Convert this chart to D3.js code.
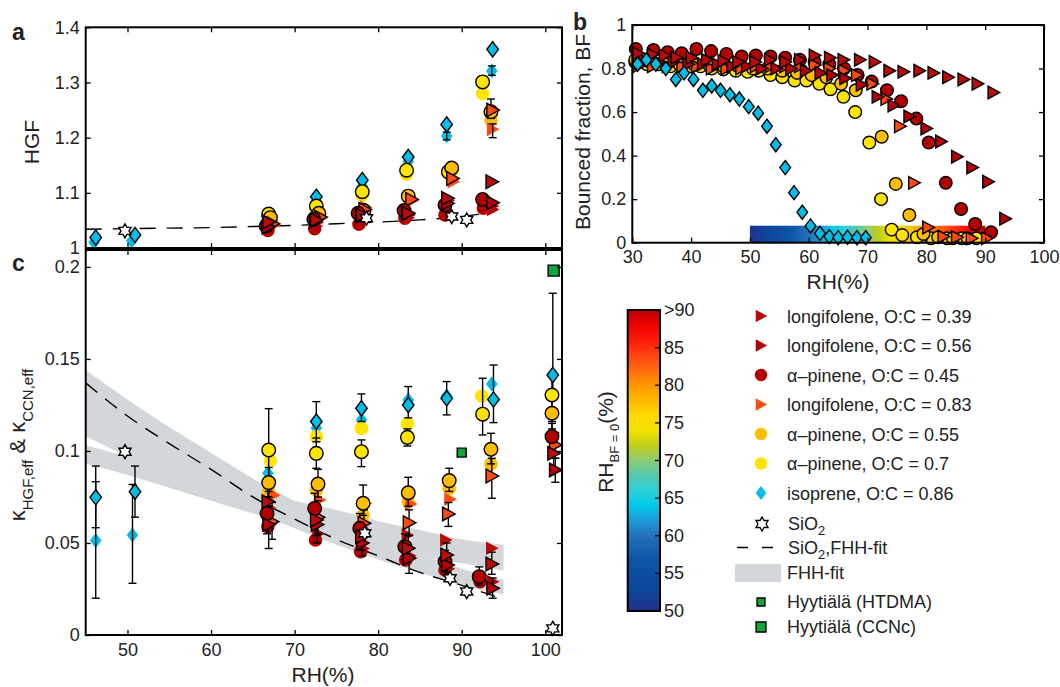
<!DOCTYPE html>
<html>
<head>
<meta charset="utf-8">
<script src="https://cdn.jsdelivr.net/npm/d3@7/dist/d3.min.js"></script>
<style>
  body { margin: 0; background: #fff; }
  text { font-family: "Liberation Sans", Arial, Helvetica, sans-serif; fill: #222; }
</style>
</head>
<body>
<svg id="fig" width="1060" height="687"></svg>
<script>
// ---- panel b: bounced fraction vs RH, [RH, BF]
const bfIso = [[30.9,0.82],[32.4,0.84],[34,0.82],[35.7,0.80],[37.4,0.75],[38.8,0.78],[40.4,0.75],[42,0.70],[43.5,0.72],[45,0.70],[46.6,0.68],[48.2,0.66],[49.8,0.625],[51.4,0.595],[52.9,0.535],[54.4,0.45],[56,0.345],[57.5,0.23],[58.9,0.14],[60.3,0.077],[61.9,0.043],[63.5,0.028],[65,0.023],[66.6,0.025],[68.2,0.023],[69.7,0.023]];
const bfApin07 = [[30.5,0.83],[32.5,0.82],[34.5,0.82],[36.5,0.81],[38.5,0.81],[40,0.81],[41.6,0.81],[43.5,0.80],[45.5,0.796],[47.6,0.79],[49.6,0.785],[51.5,0.79],[53.5,0.77],[55.5,0.76],[57.6,0.745],[59.6,0.745],[61.8,0.73],[63.7,0.705],[65.9,0.67],[67.9,0.60],[70.3,0.46],[72.3,0.20],[74.1,0.06],[75.9,0.035],[78.4,0.025],[80.8,0.02],[83.5,0.02],[86,0.02],[88.5,0.02]];
const bfApin055 = [[30.5,0.84],[33,0.83],[35.5,0.83],[38,0.82],[40.5,0.82],[43,0.82],[45.5,0.81],[48,0.81],[50.5,0.80],[53,0.80],[55.5,0.79],[58,0.78],[60.5,0.77],[63,0.76],[65.5,0.73],[68,0.70],[72.4,0.487],[74.8,0.27],[77.1,0.127],[79.5,0.04],[82,0.025],[84.5,0.02],[87,0.02]];
const bfApin045 = [[30.6,0.89],[33.6,0.885],[36,0.875],[38.4,0.87],[40.9,0.89],[43.4,0.88],[46,0.867],[48.6,0.855],[51,0.86],[53.5,0.855],[56,0.85],[58.5,0.84],[61,0.83],[63.5,0.82],[66,0.80],[68.3,0.77],[70.7,0.74],[73.3,0.70],[75.7,0.65],[78.3,0.57],[80.4,0.46],[83.3,0.275],[85.9,0.155],[88.3,0.086],[91,0.048]];
const bfLon083 = [[31,0.81],[33.5,0.81],[36,0.81],[38.5,0.81],[41,0.81],[43.5,0.80],[46,0.80],[48.5,0.80],[51,0.81],[53.5,0.81],[56,0.81],[58.5,0.81],[61,0.816],[63.5,0.80],[66,0.79],[68.2,0.77],[70.8,0.73],[73.2,0.66],[75.5,0.535],[77.9,0.275],[80.3,0.07],[82.9,0.028],[85.2,0.025],[87.7,0.02],[90.3,0.02]];
const bfLon056 = [[32,0.84],[34.5,0.83],[37,0.83],[39.5,0.82],[42,0.82],[44.5,0.82],[47,0.81],[49.5,0.81],[52,0.80],[54.5,0.80],[57,0.80],[59.5,0.79],[62,0.78],[64,0.77],[66.2,0.755],[69,0.725],[71.7,0.67],[74.4,0.63],[77.1,0.58],[80,0.525],[82.5,0.465],[85.2,0.395],[87.8,0.345],[90.5,0.28],[93.4,0.11]];
const bfLon039 = [[31,0.87],[33.5,0.865],[35.5,0.86],[37.5,0.85],[40.1,0.85],[42.7,0.84],[45.5,0.835],[48,0.83],[50.9,0.83],[53.4,0.84],[56,0.83],[58.5,0.84],[61,0.86],[63.6,0.85],[65.9,0.84],[68.7,0.84],[71.2,0.83],[73.7,0.79],[76.1,0.785],[78.8,0.79],[81.2,0.78],[83.7,0.76],[86.3,0.75],[88.7,0.73],[91.4,0.69]];

// ---- panel a: HGF, outlined markers / plain markers  [RH, HGF, (low, high)]
const hgfIso = [[46.2,1.019],[50.9,1.0235],[72.6,1.093],[78.1,1.123],[83.6,1.165],[88.2,1.224],[93.7,1.360]];
const hgfIsoP = [[46.0,1.010],[50.5,1.013],[66.6,1.057],[72.6,1.085],[78.1,1.112],[83.6,1.157],[88.2,1.203,1.196,1.210],[93.6,1.321,1.313,1.330]];
const hgfApin07 = [[66.9,1.0615],[72.6,1.076],[78.1,1.102],[83.4,1.141],[88.4,1.138],[92.5,1.301]];
const hgfApin07P = [[67.0,1.057],[72.6,1.070],[78.1,1.096],[83.4,1.134],[92.5,1.280]];
const hgfApin055 = [[67.1,1.055],[72.9,1.063],[78.3,1.068],[83.6,1.094],[88.8,1.145],[93.5,1.247,1.235,1.270]];
const hgfApin055P = [[67.2,1.050],[72.9,1.058],[78.3,1.065],[83.7,1.090],[88.8,1.140],[93.5,1.232]];
const hgfLon083 = [[67.4,1.044],[73.1,1.056],[78.4,1.070],[84.0,1.088],[88.9,1.126],[93.7,1.250]];
const hgfLon083P = [[67.6,1.042],[73.1,1.054],[78.5,1.074],[84.1,1.086],[89.0,1.120],[93.7,1.215,1.200,1.225]];
const hgfApin045 = [[66.6,1.040],[72.3,1.052],[77.6,1.063],[83.1,1.068],[88.0,1.078],[92.5,1.088]];
const hgfApin045P = [[66.8,1.032],[72.4,1.035],[77.7,1.043],[83.2,1.054],[88.0,1.060],[92.6,1.072]];
const hgfLon056 = [[66.8,1.038],[72.5,1.049],[78.0,1.057],[83.5,1.062],[88.3,1.081],[93.7,1.082]];
const hgfLon056P = [[66.9,1.035],[72.6,1.040],[78.1,1.050],[83.6,1.055],[88.3,1.065],[93.7,1.070]];
const hgfLon039 = [[66.9,1.047],[72.6,1.051],[78.1,1.060],[83.6,1.063],[88.3,1.090],[93.6,1.120]];
const hgfLon039P = [[67.0,1.044],[72.7,1.046],[78.2,1.056],[83.7,1.060],[88.4,1.086],[93.7,1.076]];
const hgfSiO2 = [[49.7,1.031],[78.6,1.054],[88.8,1.057],[90.6,1.051]];
const fitRH = [45,50,55,60,65,70,75,80,85,90,94];
const fitHGF = [1.034,1.035,1.036,1.037,1.039,1.041,1.044,1.047,1.051,1.057,1.066];

// ---- panel c: kappa, outlined markers with error bars / plain markers  [RH, kappa, (low, high)]
const kapIso = [[46.2,0.0748,0.0583,0.0918],[50.9,0.0779,0.064,0.0918],[72.6,0.116,0.105,0.1268],[78.0,0.1232,0.116,0.131],[83.6,0.125,0.118,0.135],[88.2,0.1286,0.1196,0.1377],[93.8,0.128,0.1154,0.1467],[100.9,0.1413,0.128,0.1857]];
const kapIsoP = [[46.2,0.0513,0.020,0.0833],[50.6,0.0543,0.0281,0.0818],[66.8,0.0879],[72.6,0.1125],[78.0,0.117],[83.6,0.1277],[88.2,0.130],[93.6,0.1364]];
const kapApin07 = [[66.9,0.1005,0.078,0.123],[72.6,0.0987,0.0906,0.107],[78.0,0.0996,0.0915,0.106],[83.5,0.1074,0.1027,0.112],[92.5,0.120,0.1087,0.1395],[100.8,0.1304,0.116,0.141]];
const kapApin07P = [[67.1,0.0947],[72.6,0.1078],[78.0,0.1123],[83.5,0.1147],[92.4,0.1299]];
const kapApin055 = [[66.9,0.0828,0.075,0.091],[72.8,0.082,0.075,0.090],[78.2,0.0716,0.065,0.0815],[83.6,0.0773,0.070,0.0857],[88.5,0.0839,0.078,0.0906],[93.5,0.1009,0.093,0.1096],[100.8,0.1205,0.112,0.128]];
const kapApin055P = [[66.9,0.078],[72.6,0.0788],[78.2,0.0652],[83.6,0.0725],[88.5,0.0797],[93.5,0.0929]];
const kapLon083 = [[67.3,0.0616,0.052,0.072],[72.8,0.064,0.055,0.073],[78.3,0.0607,0.053,0.068],[83.7,0.061,0.054,0.068],[88.4,0.0658,0.059,0.072],[93.6,0.0864,0.0743,0.096],[101.2,0.1033,0.096,0.110]];
const kapLon083P = [[67.5,0.076],[73.0,0.0734],[78.5,0.0716],[83.9,0.0712],[88.6,0.0737]];
const kapApin045 = [[66.7,0.066,0.055,0.075],[72.4,0.0688,0.060,0.077],[77.8,0.058,0.050,0.066],[83.2,0.048,0.041,0.055],[88.0,0.0399,0.034,0.046],[92.1,0.0317,0.027,0.037],[100.8,0.1078,0.100,0.115]];
const kapApin045P = [[66.8,0.0589],[72.5,0.0516],[77.9,0.0453],[83.3,0.0408],[88.0,0.0353],[92.2,0.029]];
const kapLon056 = [[66.9,0.060,0.047,0.070],[72.7,0.060,0.050,0.068],[78.1,0.050,0.043,0.057],[83.7,0.0417,0.0335,0.048],[88.3,0.038,0.032,0.044],[93.7,0.0254,0.020,0.031],[101.2,0.0897,0.083,0.096]];
const kapLon056P = [[67.2,0.061],[72.8,0.055],[78.2,0.047],[83.8,0.043],[88.4,0.036],[93.7,0.029]];
const kapLon039 = [[66.8,0.0725,0.062,0.082],[72.6,0.0625,0.054,0.071],[78.0,0.0534,0.046,0.061],[83.6,0.0471,0.040,0.054],[88.2,0.0435,0.037,0.050],[93.6,0.0386,0.033,0.045],[101.0,0.0987,0.090,0.108]];
const kapLon039P = [[67.0,0.069],[72.7,0.063],[78.1,0.058],[83.5,0.0543],[88.1,0.0516],[93.6,0.0471]];
const kapSiO2 = [[49.7,0.0996],[78.4,0.0553],[88.6,0.0308],[90.6,0.0236],[100.9,0.0036]];
const kapHTDMA = [[90.0,0.0991]];
const kapCCNc = [[101.0,0.198]];
const fitKappa = [0.137,0.119,0.104,0.090,0.075,0.063,0.052,0.043,0.034,0.027,0.021];
// FHH-fit bands (two), read at these RH
const bandRH = [45,50,55,60,65,70,75,80,85,90,95];
const band1Hi = [0.144,0.128,0.113,0.099,0.085,0.073,0.062,0.052,0.044,0.036,0.030];
const band1Lo = [0.108,0.097,0.087,0.077,0.067,0.058,0.049,0.041,0.034,0.027,0.022];
const band2Hi = [0.103,0.097,0.091,0.085,0.079,0.073,0.068,0.062,0.057,0.052,0.049];
const band2Lo = [0.093,0.087,0.080,0.073,0.066,0.060,0.054,0.048,0.043,0.039,0.035];

// ---- colour bar RH_BF=0
const cbarRH = [50,53,57,60,62,64,66,68,70,72,74,76,78,80,82,84,86,88,90];
const cbarCol = ["#22318a","#0b479b","#0d55a6","#2570b9","#1c9ad8","#03c9ea","#2bd0d8","#55c8ad","#8ccb75","#c3cf18","#f2e200","#ffd800","#ffb800","#ff9800","#ff6c10","#ff4210","#ff1a0a","#f00000","#bb0000"];
const cbarTicks = [50,55,60,65,70,75,80,85,90];

const legendLabels = ["longifolene, O:C = 0.39","longifolene, O:C = 0.56","\u03b1\u2013pinene, O:C = 0.45","longifolene, O:C = 0.83","\u03b1\u2013pinene, O:C = 0.55","\u03b1\u2013pinene, O:C = 0.7","isoprene, O:C = 0.86"];

// series styles (shape + colour), drawing order back to front
const series = [
  {key:"iso", shape:"dia", color:"#00bde8", b:bfIso, a:hgfIso, aP:hgfIsoP, c:kapIso, cP:kapIsoP},
  {key:"apin07", shape:"cir", color:"#ffe400", b:bfApin07, a:hgfApin07, aP:hgfApin07P, c:kapApin07, cP:kapApin07P},
  {key:"apin055", shape:"cir", color:"#ffbd00", b:bfApin055, a:hgfApin055, aP:hgfApin055P, c:kapApin055, cP:kapApin055P},
  {key:"lon083", shape:"tri", color:"#ff4a10", b:bfLon083, a:hgfLon083, aP:hgfLon083P, c:kapLon083, cP:kapLon083P},
  {key:"apin045", shape:"cir", color:"#b20000", b:bfApin045, a:hgfApin045, aP:hgfApin045P, c:kapApin045, cP:kapApin045P},
  {key:"lon056", shape:"tri", color:"#b3000c", b:bfLon056, a:hgfLon056, aP:hgfLon056P, c:kapLon056, cP:kapLon056P},
  {key:"lon039", shape:"tri", color:"#bb0a0a", b:bfLon039, a:hgfLon039, aP:hgfLon039P, c:kapLon039, cP:kapLon039P}
];
const legendOrder = ["lon039","lon056","apin045","lon083","apin055","apin07","iso"];

const svg = d3.select("#fig");

// scales
const xA = d3.scaleLinear().domain([45,102]).range([85.7,562]);
const yA = d3.scaleLinear().domain([1,1.4]).range([248,27.3]);
const yC = d3.scaleLinear().domain([0,0.2092]).range([635,250]);
const xB = d3.scaleLinear().domain([30,100]).range([632.3,1044]);
const yB = d3.scaleLinear().domain([0,1]).range([242.7,25]);

const MS = 6.8;   // marker size panels a, c
const MSB = 6.3;  // marker size panel b

function markerPath(shape, s) {
  if (shape === "tri") return `M${-0.85*s},${-s}L${s},0L${-0.85*s},${s}Z`;
  if (shape === "dia") return `M0,${-1.12*s}L${0.85*s},0L0,${1.12*s}L${-0.85*s},0Z`;
  if (shape === "sq") return `M${-s},${-s}H${s}V${s}H${-s}Z`;
  if (shape === "star") {
    const r = s / Math.sqrt(3);
    const p = d3.range(12).map(i => {
      const a = (-90 + i * 30) * Math.PI / 180, rr = i % 2 ? r : s;
      return [rr * Math.cos(a), rr * Math.sin(a)];
    });
    return "M" + p.map(q => q[0].toFixed(2) + "," + q[1].toFixed(2)).join("L") + "Z";
  }
  return `M${s},0A${s},${s} 0 1,1 ${-s},0A${s},${s} 0 1,1 ${s},0Z`;
}

function drawMarkers(g, data, x, y, shape, size, fill, outlined) {
  g.append("g").selectAll("path").data(data).join("path")
    .attr("d", markerPath(shape, size))
    .attr("transform", d => `translate(${x(d[0])},${y(d[1])})`)
    .attr("fill", fill)
    .attr("stroke", outlined ? "#000" : "none")
    .attr("stroke-width", 1.4);
}

function drawErr(g, data, x, y) {
  const e = data.filter(d => d.length > 2);
  const gg = g.append("g").attr("stroke", "#000").attr("stroke-width", 1.4);
  gg.selectAll("line.v").data(e).join("line").attr("class", "v")
    .attr("x1", d => x(d[0])).attr("x2", d => x(d[0]))
    .attr("y1", d => y(d[2])).attr("y2", d => y(d[3]));
  gg.selectAll("line.lo").data(e).join("line").attr("class", "lo")
    .attr("x1", d => x(d[0]) - 4).attr("x2", d => x(d[0]) + 4)
    .attr("y1", d => y(d[2])).attr("y2", d => y(d[2]));
  gg.selectAll("line.hi").data(e).join("line").attr("class", "hi")
    .attr("x1", d => x(d[0]) - 4).attr("x2", d => x(d[0]) + 4)
    .attr("y1", d => y(d[3])).attr("y2", d => y(d[3]));
}

const fmt = d => String(+d.toFixed(2));
function frame(x, y, xt, yt, showX) {
  const g = svg.append("g");
  const [xl, xr] = x.range(), [yb, ytp] = y.range();
  const axes = [
    g.append("g").attr("transform", `translate(0,${yb})`)
      .call(d3.axisBottom(x).tickValues(xt).tickSize(-5).tickSizeOuter(0).tickPadding(8).tickFormat(showX ? fmt : "")),
    g.append("g").attr("transform", `translate(0,${ytp})`)
      .call(d3.axisTop(x).tickValues(xt).tickSize(-5).tickSizeOuter(0).tickFormat("")),
    g.append("g").attr("transform", `translate(${xl},0)`)
      .call(d3.axisLeft(y).tickValues(yt).tickSize(-5).tickSizeOuter(0).tickPadding(6).tickFormat(fmt)),
    g.append("g").attr("transform", `translate(${xr},0)`)
      .call(d3.axisRight(y).tickValues(yt).tickSize(-5).tickSizeOuter(0).tickFormat(""))
  ];
  axes.forEach(a => {
    a.select(".domain").remove();
    a.attr("font-size", 18);
    a.selectAll("line").attr("stroke", "#000").attr("stroke-width", 1.3);
  });
  g.append("rect").attr("x", xl).attr("y", ytp).attr("width", xr - xl).attr("height", yb - ytp)
    .attr("fill", "none").attr("stroke", "#000").attr("stroke-width", 2);
}

// gradients
const defs = svg.append("defs");
const gv = defs.append("linearGradient").attr("id", "cbV").attr("x1", 0).attr("y1", 1).attr("x2", 0).attr("y2", 0);
const gh = defs.append("linearGradient").attr("id", "cbH").attr("x1", 0).attr("y1", 0).attr("x2", 1).attr("y2", 0);
cbarRH.forEach((v, i) => {
  gv.append("stop").attr("offset", (v - 50) / 40).attr("stop-color", cbarCol[i]);
  gh.append("stop").attr("offset", (v - 50) / 40).attr("stop-color", cbarCol[i]);
});

// ================= panel a =================
const gA = svg.append("g");
gA.append("path").datum(fitRH.map((r, i) => [r, fitHGF[i]]))
  .attr("d", d3.line().x(d => xA(d[0])).y(d => yA(d[1])).curve(d3.curveMonotoneX))
  .attr("fill", "none").attr("stroke", "#000").attr("stroke-width", 1.4).attr("stroke-dasharray", "16,11");
series.forEach(s => drawMarkers(gA, s.aP, xA, yA, s.shape, MS, s.color, false));
series.forEach(s => { drawErr(gA, s.aP, xA, yA); drawErr(gA, s.a, xA, yA); });
series.forEach(s => drawMarkers(gA, s.a, xA, yA, s.shape, MS, s.color, true));
drawMarkers(gA, hgfSiO2, xA, yA, "star", 7, "#fff", true);
frame(xA, yA, [50,60,70,80,90,100], [1,1.1,1.2,1.3,1.4], false);

// ================= panel c =================
const gC = svg.append("g");
const area = d3.area().x(d => xA(d[0])).y0(d => yC(d[1])).y1(d => yC(d[2])).curve(d3.curveMonotoneX);
gC.append("path").datum(bandRH.map((r, i) => [r, band1Lo[i], band1Hi[i]])).attr("d", area).attr("fill", "#d4d7da");
gC.append("path").datum(bandRH.map((r, i) => [r, band2Lo[i], band2Hi[i]])).attr("d", area).attr("fill", "#d4d7da");
gC.append("path").datum(fitRH.map((r, i) => [r, fitKappa[i]]))
  .attr("d", d3.line().x(d => xA(d[0])).y(d => yC(d[1])).curve(d3.curveMonotoneX))
  .attr("fill", "none").attr("stroke", "#000").attr("stroke-width", 1.4).attr("stroke-dasharray", "15,10");
series.forEach(s => drawMarkers(gC, s.cP, xA, yC, s.shape, MS, s.color, false));
series.forEach(s => { drawErr(gC, s.cP, xA, yC); drawErr(gC, s.c, xA, yC); });
series.forEach(s => drawMarkers(gC, s.c, xA, yC, s.shape, MS, s.color, true));
drawMarkers(gC, kapSiO2, xA, yC, "star", 7, "#fff", true);
drawMarkers(gC, kapHTDMA, xA, yC, "sq", 4.5, "#12a33a", true);
drawMarkers(gC, kapCCNc, xA, yC, "sq", 5.5, "#12a33a", true);
frame(xA, yC, [50,60,70,80,90,100], [0,0.05,0.1,0.15,0.2], true);

// ================= panel b =================
const gB = svg.append("g");
gB.append("rect").attr("x", xB(50)).attr("y", yB(0.078)).attr("width", xB(90) - xB(50)).attr("height", yB(0) - yB(0.078))
  .attr("fill", "url(#cbH)");
const bOrder = ["apin07","apin055","apin045","lon083","lon056","lon039","iso"];
bOrder.forEach(k => {
  const s = series.find(t => t.key === k);
  drawMarkers(gB, s.b, xB, yB, s.shape, MSB, s.color, true);
});
frame(xB, yB, [30,40,50,60,70,80,90,100], [0,0.2,0.4,0.6,0.8,1], true);

// ================= labels =================
svg.append("text").attr("transform", "translate(39,142) rotate(-90)").attr("text-anchor", "middle").attr("font-size", 21).text("HGF");
svg.append("text").attr("transform", "translate(590,132) rotate(-90)").attr("text-anchor", "middle").attr("font-size", 21).text("Bounced fraction, BF");
svg.append("text").attr("x", 838).attr("y", 289).attr("text-anchor", "middle").attr("font-size", 21).text("RH(%)");
svg.append("text").attr("x", 323).attr("y", 682).attr("text-anchor", "middle").attr("font-size", 21).text("RH(%)");
const kl = svg.append("text").attr("transform", "translate(25,445) rotate(-90)").attr("text-anchor", "middle").attr("font-size", 22);
kl.append("tspan").text("\u03ba");
kl.append("tspan").attr("font-size", 15).attr("dy", 8).text("HGF,eff");
kl.append("tspan").attr("dy", -8).text(" & \u03ba");
kl.append("tspan").attr("font-size", 15).attr("dy", 8).text("CCN,eff");
[["a",12,40],["b",573,30],["c",12,271]].forEach(p =>
  svg.append("text").attr("x", p[1]).attr("y", p[2]).attr("font-size", 23).attr("font-weight", "bold").text(p[0]));

// ================= colour bar =================
const yCb = d3.scaleLinear().domain([50,90]).range([611,310]);
const gK = svg.append("g");
gK.append("rect").attr("x", 627.7).attr("y", yCb(90)).attr("width", 32.3).attr("height", yCb(50) - yCb(90))
  .attr("fill", "url(#cbV)").attr("stroke", "#000").attr("stroke-width", 2);
gK.selectAll("line").data(cbarTicks).join("line")
  .attr("x1", 655).attr("x2", 660).attr("y1", d => yCb(d)).attr("y2", d => yCb(d)).attr("stroke", "#000").attr("stroke-width", 1.3);
gK.selectAll("text").data(cbarTicks).join("text")
  .attr("x", 664).attr("y", d => yCb(d) + 6).attr("font-size", 18).text(d => d === 90 ? ">90" : d);
const cl = svg.append("text").attr("transform", "translate(613,442) rotate(-90)").attr("text-anchor", "middle").attr("font-size", 21);
cl.append("tspan").text("RH");
cl.append("tspan").attr("font-size", 13).attr("dy", 6).text("BF = 0");
cl.append("tspan").attr("dy", -6).text("(%)");

// ================= legend =================
const gL = svg.append("g");
legendOrder.forEach((k, i) => {
  const s = series.find(t => t.key === k);
  const yy = 316 + i * 29.5;
  gL.append("path").attr("d", markerPath(s.shape, 6.2)).attr("transform", `translate(761,${yy})`).attr("fill", s.color);
  gL.append("text").attr("x", 787).attr("y", yy + 6.5).attr("font-size", 18).text(legendLabels[i]);
});
gL.append("path").attr("d", markerPath("star", 7)).attr("transform", "translate(762,524)").attr("fill", "#fff").attr("stroke", "#000").attr("stroke-width", 1.3);
const t1 = gL.append("text").attr("x", 788).attr("y", 530).attr("font-size", 18);
t1.append("tspan").text("SiO");
t1.append("tspan").attr("font-size", 13).attr("dy", 5).text("2");
gL.append("line").attr("x1", 737).attr("x2", 783).attr("y1", 547.5).attr("y2", 547.5)
  .attr("stroke", "#000").attr("stroke-width", 1.4).attr("stroke-dasharray", "11,14");
const t2 = gL.append("text").attr("x", 788).attr("y", 554).attr("font-size", 18);
t2.append("tspan").text("SiO");
t2.append("tspan").attr("font-size", 13).attr("dy", 5).text("2");
t2.append("tspan").attr("dy", -5).text(",FHH-fit");
gL.append("rect").attr("x", 735).attr("y", 564).attr("width", 46).attr("height", 18).attr("fill", "#d4d7da");
gL.append("text").attr("x", 787).attr("y", 579).attr("font-size", 18).text("FHH-fit");
gL.append("path").attr("d", markerPath("sq", 4)).attr("transform", "translate(761,602)").attr("fill", "#12a33a").attr("stroke", "#000").attr("stroke-width", 1.3);
gL.append("text").attr("x", 787).attr("y", 608).attr("font-size", 18).text("Hyyti\u00e4l\u00e4 (HTDMA)");
gL.append("path").attr("d", markerPath("sq", 5)).attr("transform", "translate(761,627)").attr("fill", "#12a33a").attr("stroke", "#000").attr("stroke-width", 1.3);
gL.append("text").attr("x", 787).attr("y", 633).attr("font-size", 18).text("Hyyti\u00e4l\u00e4 (CCNc)");
</script>
</body>
</html>
